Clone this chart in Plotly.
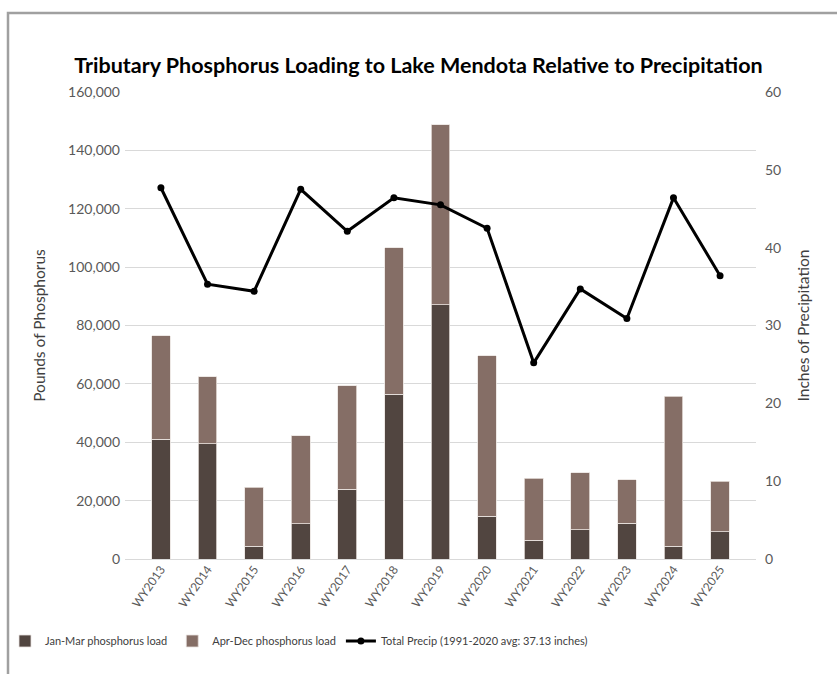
import plotly.graph_objects as go

years = ["WY2013", "WY2014", "WY2015", "WY2016", "WY2017", "WY2018", "WY2019",
         "WY2020", "WY2021", "WY2022", "WY2023", "WY2024", "WY2025"]
jan_mar = [41100, 39500, 4400, 12100, 23900, 56500, 87100,
           14600, 6500, 10000, 12200, 4400, 9300]
total_load = [76500, 62400, 24600, 42200, 59400, 106600, 148700,
              69600, 27600, 29500, 27200, 55800, 26600]
apr_dec = [t - j for t, j in zip(total_load, jan_mar)]
precip = [47.7, 35.3, 34.4, 47.5, 42.1, 46.4, 45.5,
          42.5, 25.2, 34.7, 30.9, 46.4, 36.4]

DARK = "#514540"
LIGHT = "#856e66"
FONT = "Lato"

fig = go.Figure()

fig.add_trace(go.Bar(
    x=years, y=jan_mar, name="Jan-Mar phosphorus load",
    marker=dict(color=DARK, line=dict(color="#e8e2df", width=0.8)),
))
fig.add_trace(go.Bar(
    x=years, y=apr_dec, name="Apr-Dec phosphorus load",
    marker=dict(color=LIGHT, line=dict(color="#e8e2df", width=0.8)),
))
fig.add_trace(go.Scatter(
    x=years, y=precip, yaxis="y2", mode="lines+markers",
    name="Total Precip (1991-2020 avg: 37.13 inches)",
    line=dict(color="black", width=3),
    marker=dict(color="black", size=7),
))

# outer frame of the original graphic (runs off the page right/bottom)
W, H = 837, 674
L, R, T, B = 125, 81, 92, 115
pw, ph = W - L - R, H - T - B
fig.add_shape(
    type="rect", xref="paper", yref="paper",
    x0=(8 - L) / pw, x1=(W + 20 - L) / pw,
    y0=(H - B - (H + 20)) / ph, y1=(H - B - 13) / ph,
    line=dict(color="#a0a0a0", width=2.5), fillcolor="rgba(0,0,0,0)",
    layer="below",
)

fig.update_layout(
    width=W, height=H,
    margin=dict(l=L, r=R, t=T, b=B, autoexpand=False),
    paper_bgcolor="white", plot_bgcolor="white",
    font=dict(family=FONT, color="#595959", size=14),
    barmode="stack", bargap=0.6,
    title=dict(
        text="<b>Tributary Phosphorus Loading to Lake Mendota Relative to Precipitation</b>",
        x=0.5, xanchor="center", y=1 - 65 / H, yanchor="middle",
        font=dict(family=FONT, size=21.5, color="black"),
    ),
    xaxis=dict(
        tickangle=-55, tickfont=dict(size=12, color="#595959"),
        showgrid=False, showline=False, ticks="", automargin=False,
    ),
    yaxis=dict(
        range=[0, 160000], dtick=20000, tickformat=",",
        gridcolor="#d9d9d9", gridwidth=1, zeroline=True,
        zerolinecolor="#d9d9d9", zerolinewidth=1,
        showline=False, ticks="", automargin=False, ticklabelstandoff=4,
        title=dict(text="Pounds of Phosphorus", font=dict(size=15.5, color="#404040"), standoff=18),
    ),
    yaxis2=dict(
        range=[0, 60], dtick=10, overlaying="y", side="right",
        showgrid=False, zeroline=False, showline=False, ticks="", automargin=False,
        ticklabelstandoff=8,
        title=dict(text="Inches of Precipitation", font=dict(size=15.5, color="#404040"), standoff=17),
    ),
    legend=dict(
        orientation="h", x=(5 - L) / pw, xanchor="left",
        y=(H - B - 641) / ph, yanchor="middle",
        font=dict(size=11, color="#404040"),
        bgcolor="rgba(0,0,0,0)",
        traceorder="normal", itemwidth=30,
    ),
)

fig.write_html("out.html", post_script="document.body.style.margin='0';",
               config={"displayModeBar": False})
